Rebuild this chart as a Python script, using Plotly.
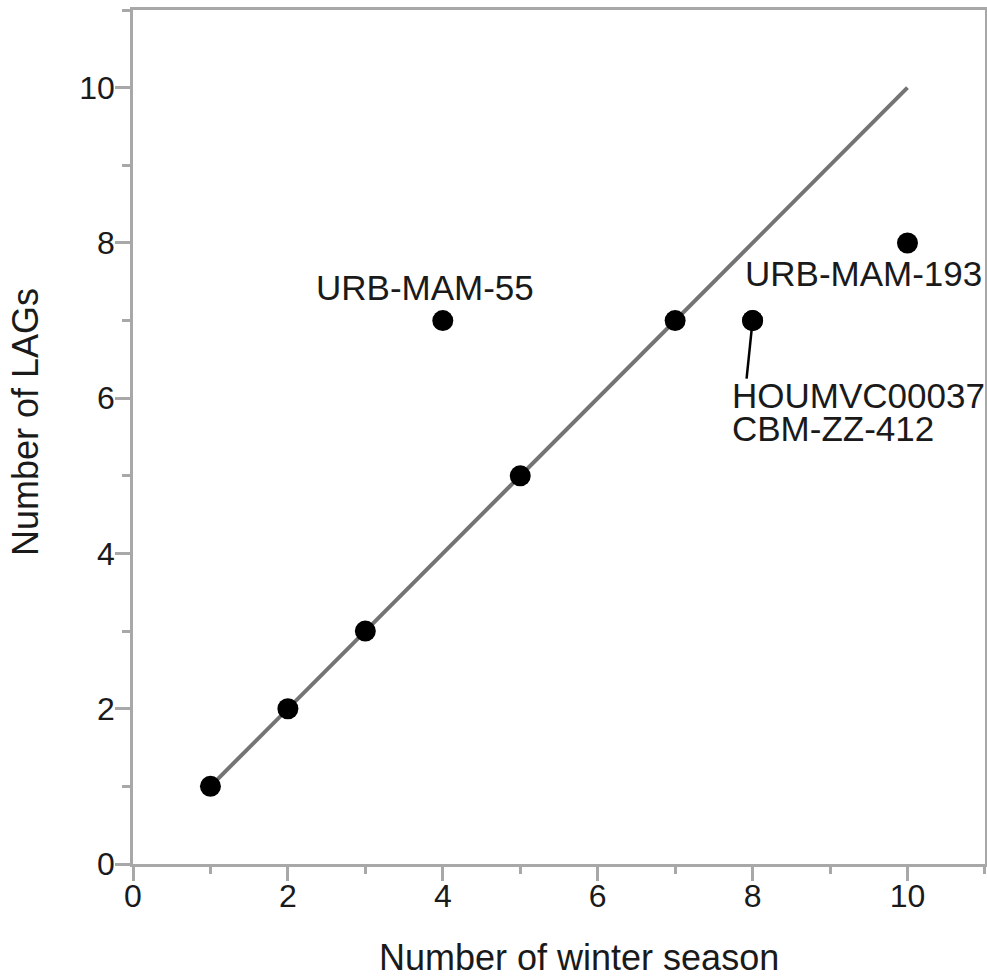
import plotly.graph_objects as go

# Data
seasons = [1, 2, 3, 4, 5, 7, 8, 8, 10]
lags = [1, 2, 3, 7, 5, 7, 7, 7, 8]
labels = ["", "", "", "URB-MAM-55", "", "", "HOUMVC00037", "CBM-ZZ-412", "URB-MAM-193"]
fit_x = [1, 10]
fit_y = [1, 10]
x_ticks = [0, 2, 4, 6, 8, 10]
y_ticks = [0, 2, 4, 6, 8, 10]

FONT = "Liberation Sans, Arial, sans-serif"
TXT = "#1a1a1a"
AXC = "#a8a8a8"

fig = go.Figure()
fig.add_trace(go.Scatter(x=fit_x, y=fit_y, mode="lines",
                         line=dict(color="#747474", width=4), hoverinfo="skip"))
fig.add_trace(go.Scatter(x=seasons, y=lags, mode="markers",
                         marker=dict(color="black", size=21)))

# label offsets (pixels) relative to their points
offsets = {
    "URB-MAM-55": dict(xanchor="center", xshift=-18, yshift=33),
    "URB-MAM-193": dict(xanchor="center", xshift=-44, yshift=-31),
    "HOUMVC00037": dict(xanchor="left", xshift=-23, yshift=-75),
    "CBM-ZZ-412": dict(xanchor="left", xshift=-23, yshift=-108),
}
for sx, ly, lab in zip(seasons, lags, labels):
    if not lab:
        continue
    o = offsets[lab]
    fig.add_annotation(x=sx, y=ly, xref="x", yref="y", text=lab, showarrow=False,
                       font=dict(family=FONT, size=35, color=TXT),
                       yanchor="middle", **o)

# leader line for the HOUMVC00037 / CBM-ZZ-412 point
i_h = labels.index("HOUMVC00037")
fig.add_shape(type="line", xref="x", yref="y", xsizemode="pixel", ysizemode="pixel",
              xanchor=seasons[i_h], yanchor=lags[i_h], x0=0, y0=0, x1=-6, y1=-58,
              line=dict(color="black", width=2.5))

# axis titles
fig.add_annotation(xref="paper", yref="paper", x=0.5, y=0, xshift=20, yshift=-93,
                   text="Number of winter season", showarrow=False,
                   font=dict(family=FONT, size=36, color=TXT), yanchor="middle")
fig.add_annotation(xref="paper", yref="paper", x=0, y=0.5, xshift=-108, yshift=15,
                   text="Number of LAGs", showarrow=False, textangle=-90,
                   font=dict(family=FONT, size=36, color=TXT), xanchor="center", yanchor="middle")

axis_common = dict(
    showgrid=False, zeroline=False, showline=True, linecolor=AXC, linewidth=2.5,
    mirror=True, ticks="outside", ticklen=15, tickwidth=2.5, tickcolor=AXC,
    tickfont=dict(family=FONT, size=32, color=TXT),
    minor=dict(dtick=1, tick0=0, ticks="outside", ticklen=8, tickwidth=2.5,
               tickcolor=AXC, showgrid=False),
    range=[0, 11.001], tickmode="array", automargin=False,
)
fig.update_xaxes(**axis_common, tickvals=x_ticks, ticklabelstandoff=-12)
fig.update_yaxes(**axis_common, tickvals=y_ticks, ticklabelstandoff=-6)
fig.update_xaxes(minor=dict(ticklen=7), ticklen=14)

fig.update_layout(
    width=987, height=980, showlegend=False,
    margin=dict(l=133, r=2, t=10, b=116),
    plot_bgcolor="white", paper_bgcolor="white",
)
fig.write_html("out.html", config={"displayModeBar": False},
               post_script="document.body.style.margin='0';document.body.style.overflow='hidden';")
